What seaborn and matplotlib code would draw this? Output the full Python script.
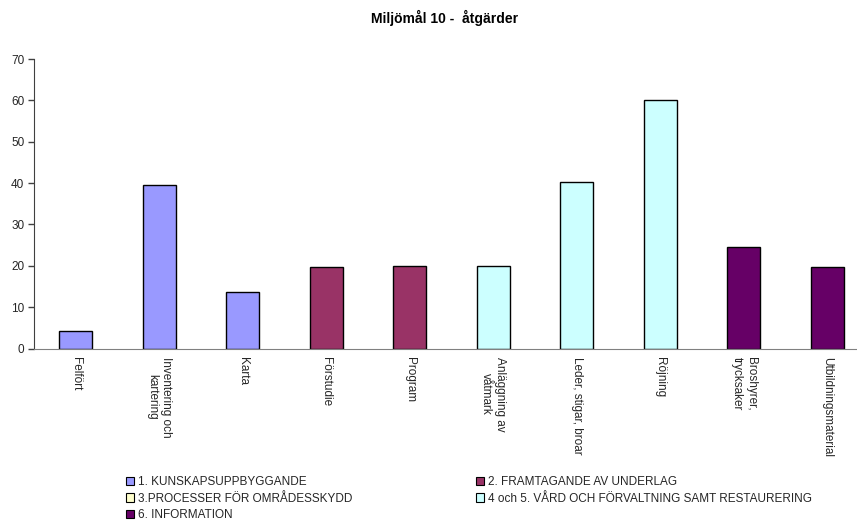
import pandas as pd
import seaborn as sns
import matplotlib.pyplot as plt
from matplotlib.patches import Patch

# data
categories = ["Felfört", "Inventering och\nkartering", "Karta", "Förstudie", "Program",
              "Anläggning av\nvåtmark", "Leder, stigar, broar", "Röjning",
              "Broshyrer,\ntrycksaker", "Utbildningsmaterial"]
values = [4.2, 39.5, 13.6, 19.6, 20.0, 20.0, 40.3, 60.0, 24.6, 19.6]
groups = ["1. KUNSKAPSUPPBYGGANDE", "1. KUNSKAPSUPPBYGGANDE", "1. KUNSKAPSUPPBYGGANDE",
          "2. FRAMTAGANDE AV UNDERLAG", "2. FRAMTAGANDE AV UNDERLAG",
          "4 och 5. VÅRD OCH FÖRVALTNING SAMT RESTAURERING",
          "4 och 5. VÅRD OCH FÖRVALTNING SAMT RESTAURERING",
          "4 och 5. VÅRD OCH FÖRVALTNING SAMT RESTAURERING",
          "6. INFORMATION", "6. INFORMATION"]
group_names = ["1. KUNSKAPSUPPBYGGANDE", "2. FRAMTAGANDE AV UNDERLAG",
               "3.PROCESSER FÖR OMRÅDESSKYDD",
               "4 och 5. VÅRD OCH FÖRVALTNING SAMT RESTAURERING", "6. INFORMATION"]
group_colors = ["#9999FF", "#993366", "#FFFFCC", "#CCFFFF", "#660066"]

df = pd.DataFrame({"Atgard": categories, "Antal": values, "Grupp": groups})
palette = dict(zip(group_names, group_colors))

sns.set_style("white")
plt.rcParams['font.family'] = ['Liberation Sans', 'DejaVu Sans']

fig = plt.figure(figsize=(8.57, 5.26), dpi=100)
ax = fig.add_axes([34 / 857, 1 - 348.5 / 526, 835 / 857, 289.5 / 526])

sns.barplot(data=df, x="Atgard", y="Antal", hue="Grupp", palette=palette,
            dodge=False, width=0.4, edgecolor="black", linewidth=1,
            saturation=1, legend=False, ax=ax)

ax.set_xlim(-0.5, len(categories) - 0.5)
ax.set_ylim(0, 70)
ax.set_yticks(range(0, 71, 10))
ax.set_xlabel("")
ax.set_ylabel("")
ax.set_xticks(range(len(categories)))
ax.set_xticklabels(categories, rotation=270, ha="center", va="top",
                   multialignment="center", fontsize=8.5)
ax.set_xticks([i + 0.5 for i in range(-1, len(categories))], minor=True)
ax.tick_params(axis="x", which="major", length=0, pad=6)
ax.tick_params(axis="x", which="minor", length=4, color="#808080", width=1, direction="out")
ax.tick_params(axis="y", length=4, color="#404040", width=1, direction="out",
               labelsize=8.5, pad=3, left=True)
for s in ["top", "right"]:
    ax.spines[s].set_visible(False)
ax.spines["left"].set_color("#404040")
ax.spines["bottom"].set_color("#808080")

fig.text(445 / 857, 1 - 18 / 526, "Miljömål 10 -  åtgärder", ha="center", va="center",
         fontsize=10, fontweight="bold", color="black")

handles = [Patch(facecolor=c, edgecolor="black", linewidth=0.8) for c in group_colors]
order = [0, 2, 4, 1, 3]
fig.legend([handles[i] for i in order], [group_names[i] for i in order],
           loc="upper left", bbox_to_anchor=(120 / 857, 1 - 470 / 526), ncol=2,
           frameon=False, fontsize=8.5, handlelength=0.7, handleheight=0.7,
           handletextpad=0.3, columnspacing=10.5, labelspacing=0.4, borderpad=0)

fig.savefig("out.png", dpi=100)
